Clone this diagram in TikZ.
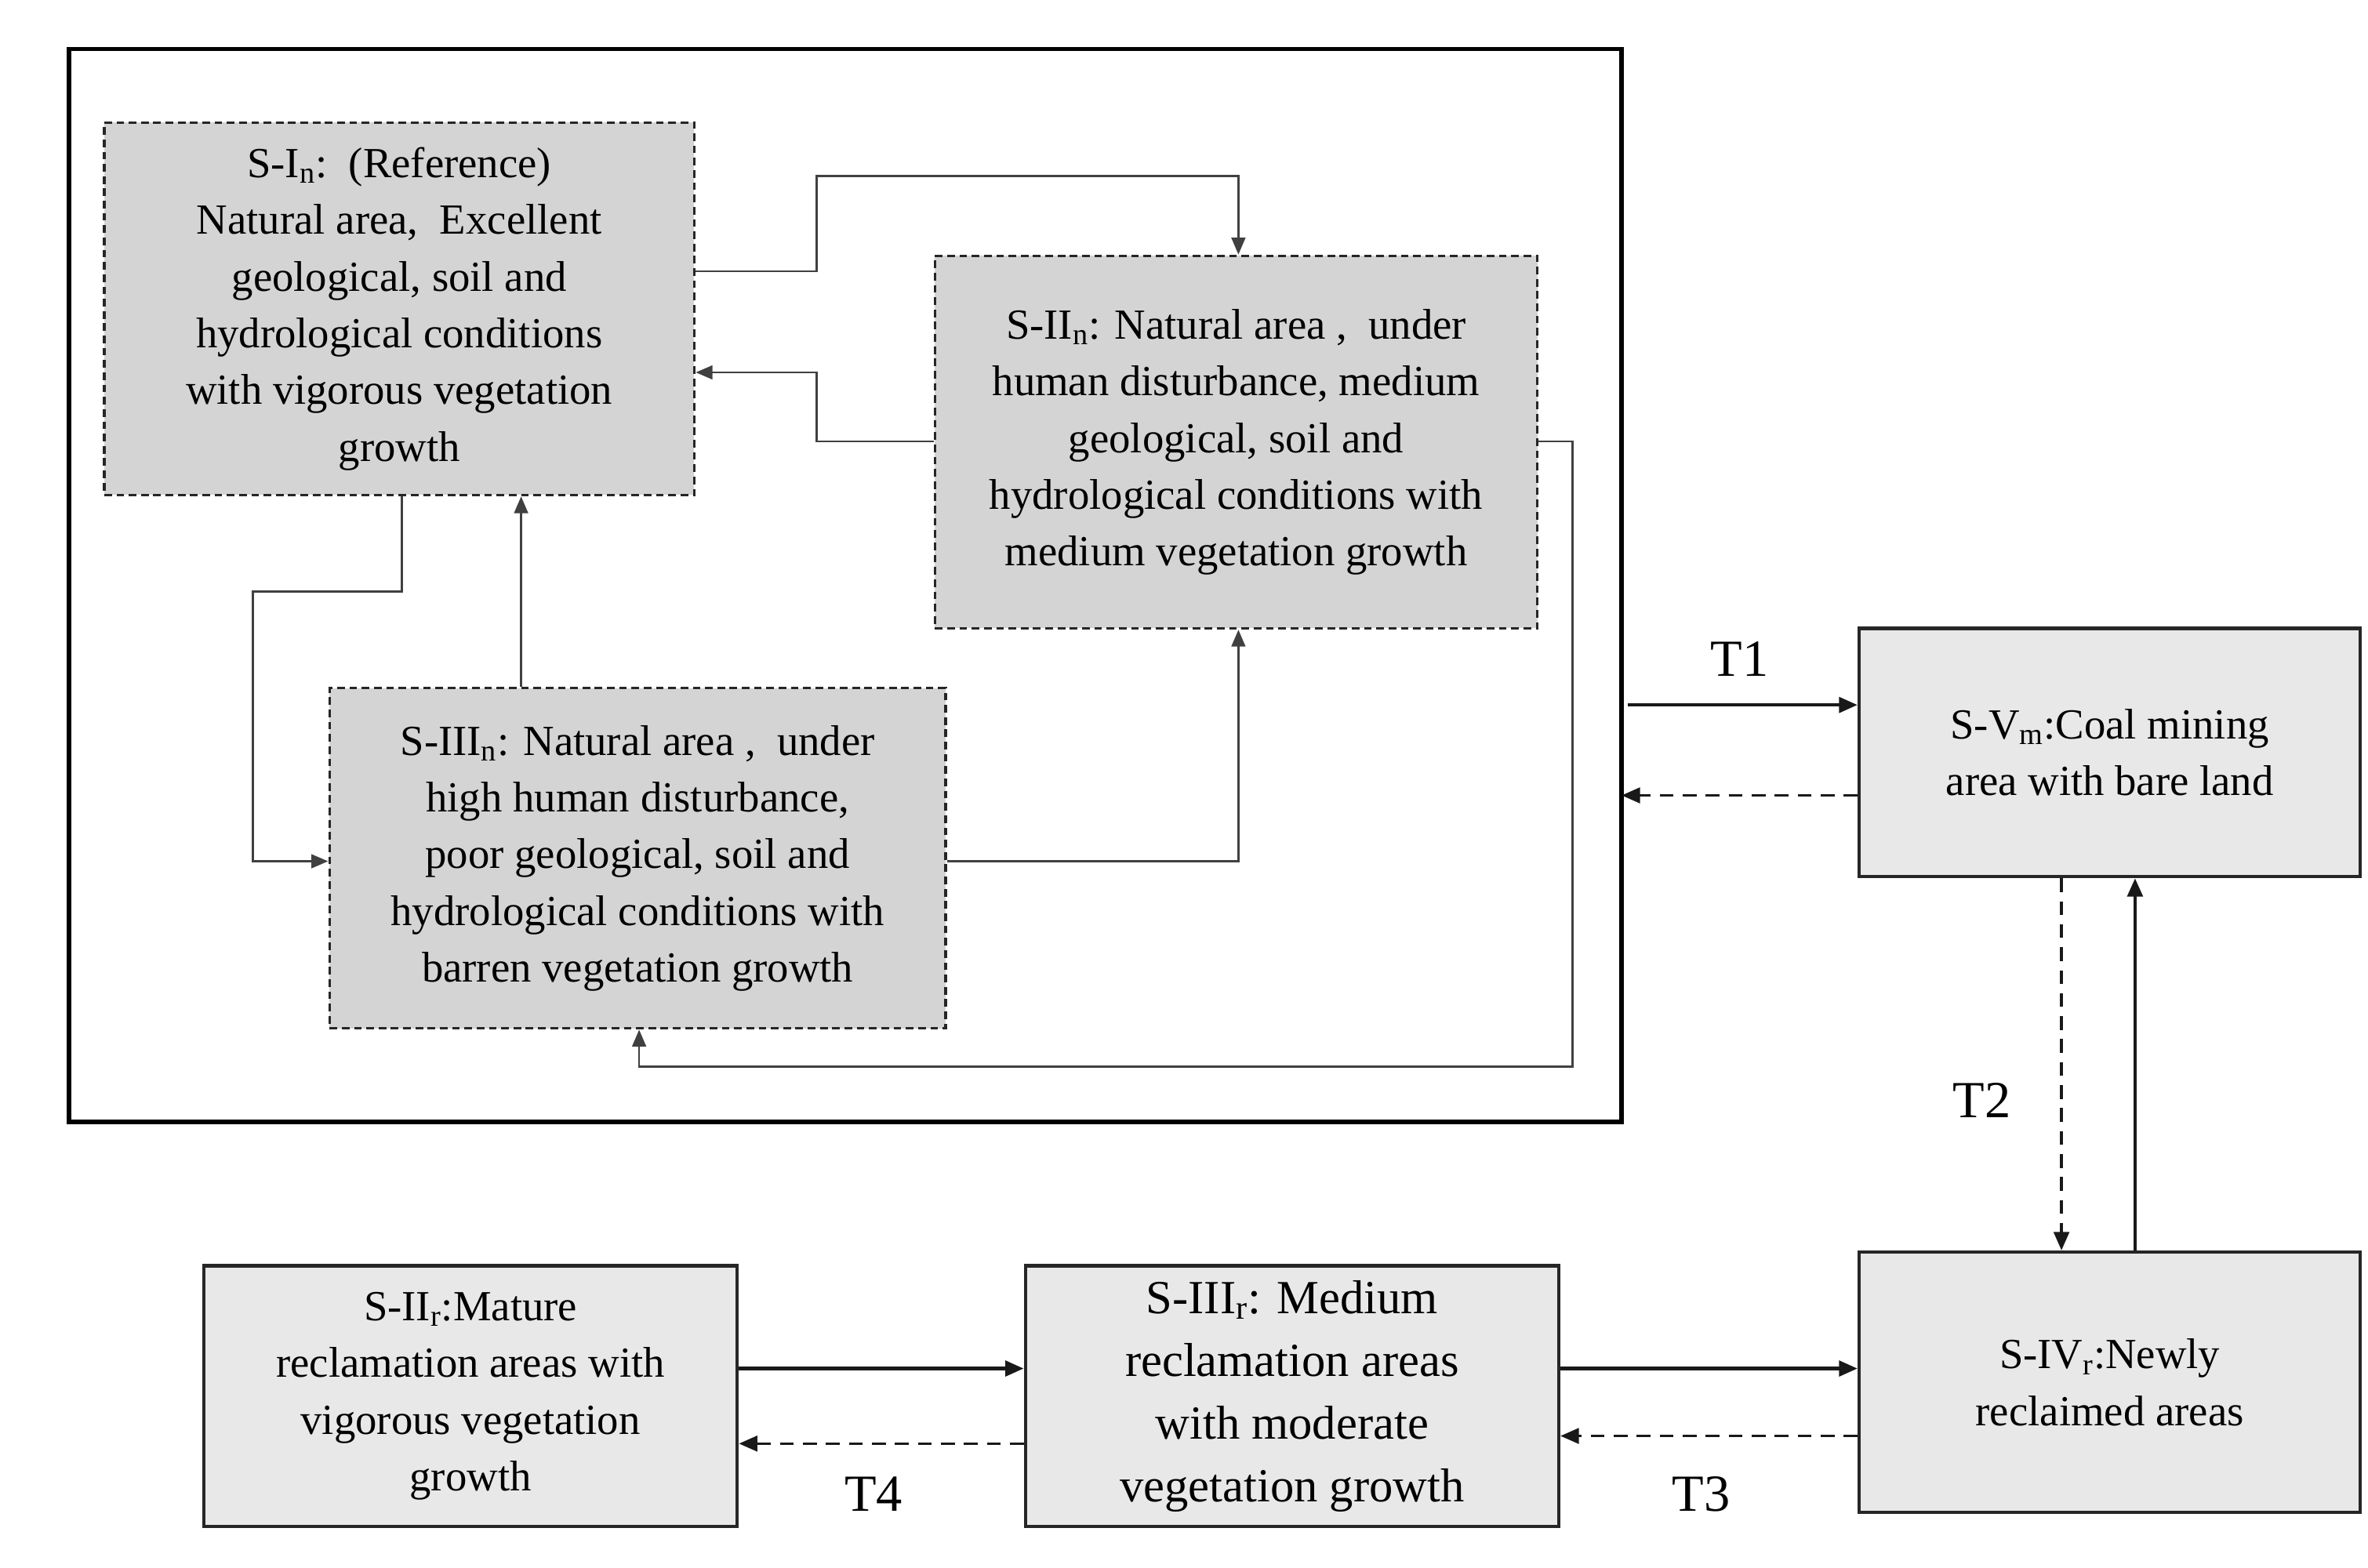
\documentclass[tikz,border=0pt]{standalone}
\usepackage{fontspec}
\setmainfont{Liberation Serif}
\usetikzlibrary{arrows.meta}
\begin{document}
\begin{tikzpicture}[x=1pt,y=-1pt,
  dbox/.style={draw=black!85,dash pattern=on 5pt off 3pt,line width=1.8pt,fill=black!17,align=center,inner sep=0pt,font=\fontsize{28}{37}\selectfont},
  sbox/.style={draw=black!85,line width=2.2pt,fill=black!9,align=center,inner sep=0pt,font=\fontsize{28}{37}\selectfont},
  ln/.style={line width=1.4pt,black!75,-{Triangle[length=11pt,width=9pt]}},
  sl/.style={line width=2.2pt,black!90,-{Triangle[length=12pt,width=10pt]}},
  dl/.style={line width=1.8pt,dash pattern=on 9pt off 6pt,black!90,-{Triangle[length=12pt,width=10pt]}},
  lab/.style={font=\fontsize{34}{40}\selectfont}]
\useasboundingbox (0,0) rectangle (1545,1023);
\draw[line width=3pt] (45,32) rectangle (1058,732);
\node[dbox,minimum width=385pt,minimum height=243pt] (s1) at (260.5,201.5) {S-I\textsubscript{n}:\ \ (Reference)\\Natural area,\ \ Excellent\\geological, soil and\\hydrological conditions\\with vigorous vegetation\\growth};
\node[dbox,minimum width=393pt,minimum height=243pt] (s2) at (806.5,288.5) {S-II\textsubscript{n}: Natural area ,\ \ under\\human disturbance,\ medium\\geological, soil and\\hydrological conditions with\\medium vegetation growth};
\node[dbox,minimum width=402pt,minimum height=222pt] (s3) at (416,560) {S-III\textsubscript{n}: Natural area ,\ \ under\\high human disturbance,\\poor geological, soil and\\hydrological conditions with\\barren vegetation growth};
\node[sbox,minimum width=327pt,minimum height=162pt] (s5) at (1376.5,491) {S-V\textsubscript{m}:Coal mining\\area with bare land};
\node[sbox,minimum width=327pt,minimum height=170pt] (s4) at (1376.5,902) {S-IV\textsubscript{r}:Newly\\reclaimed areas};
\node[sbox,minimum width=348pt,minimum height=170pt,font=\fontsize{31}{41}\selectfont] (s3r) at (843,911) {S-III\textsubscript{r}: Medium\\reclamation areas\\with moderate\\vegetation growth};
\node[sbox,minimum width=348pt,minimum height=170pt] (s2r) at (307,911) {S-II\textsubscript{r}:Mature\\reclamation areas with\\vigorous vegetation\\growth};
\coordinate (c1) at (533,177);
\draw[ln] (s1.east |- c1) -- (c1) -- (533,115) -- (808,115) -- (s2.north -| 808,0);
\draw[ln] (s2.west |- 0,288) -- (533,288) -- (533,243) -- (s1.east |- 0,243);
\draw[ln] (s1.south -| 262,0) -- (262,386) -- (165,386) -- (165,562) -- (s3.west |- 0,562);
\draw[ln] (s3.north -| 340,0) -- (s1.south -| 340,0);
\draw[ln] (s3.east |- 0,562) -- (808,562) -- (s2.south -| 808,0);
\draw[ln] (s2.east |- 0,288) -- (1026,288) -- (1026,696) -- (417,696) -- (s3.south -| 417,0);
\coordinate (t1) at (1062,460);
\draw[sl] (t1) -- (s5.west |- t1);
\coordinate (d1) at (1058,519);
\draw[dl] (s5.west |- d1) -- (d1);
\node[lab] (T1) at (1135,430) {T1};
\draw[dl] (s5.south -| 1345,0) -- (s4.north -| 1345,0);
\draw[sl] (s4.north -| 1393,0) -- (s5.south -| 1393,0);
\node[lab] (T2) at (1293,718) {T2};
\draw[sl] (s3r.east |- 0,893) -- (s4.west |- 0,893);
\draw[dl] (s4.west |- 0,937) -- (s3r.east |- 0,937);
\node[lab] (T3) at (1110,975) {T3};
\draw[sl] (s2r.east |- 0,893) -- (s3r.west |- 0,893);
\draw[dl] (s3r.west |- 0,942) -- (s2r.east |- 0,942);
\node[lab] (T4) at (570,975) {T4};
\end{tikzpicture}
\end{document}
